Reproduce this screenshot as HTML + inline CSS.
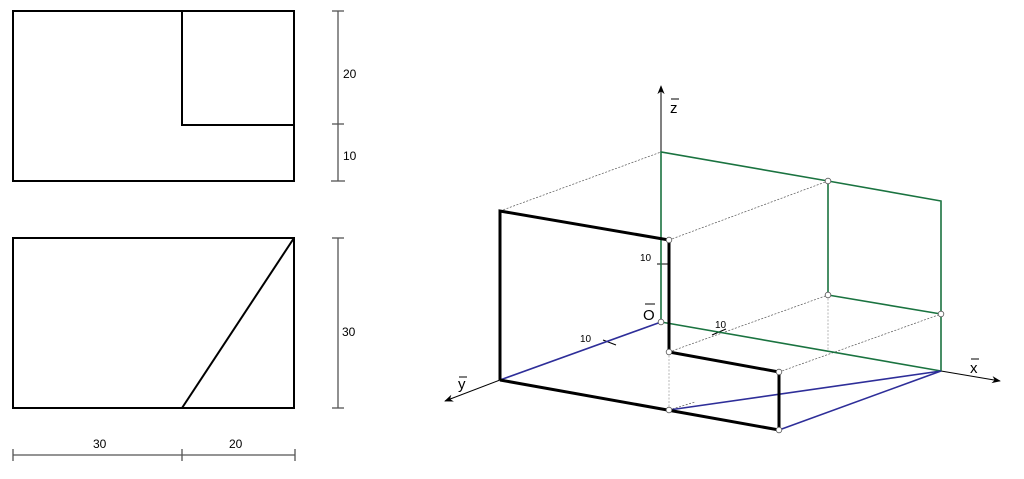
<!DOCTYPE html>
<html><head><meta charset="utf-8"><style>
html,body{margin:0;padding:0;background:#fff;}
svg{display:block;}
text{font-family:"Liberation Sans",sans-serif;fill:#000;}
</style></head><body>
<svg width="1024" height="479" viewBox="0 0 1024 479" xmlns="http://www.w3.org/2000/svg">
<defs>
<marker id="ar" viewBox="0 0 10 10" refX="9" refY="5" markerWidth="9" markerHeight="9" orient="auto" markerUnits="userSpaceOnUse"><path d="M0,1 L10,5 L0,9 L3,5 Z" fill="#000"/></marker>
</defs>
<!-- left views -->
<g fill="none" stroke="#000" stroke-width="2">
<rect x="13" y="11" width="281" height="170"/>
<polyline points="182,11 182,125 294,125"/>
<rect x="13" y="238" width="281" height="170"/>
<line x1="182" y1="408" x2="294" y2="238"/>
</g>
<g stroke="#555" stroke-width="1.3" fill="none">
<line x1="338" y1="11" x2="338" y2="181"/>
<line x1="332" y1="11" x2="344" y2="11"/><line x1="332" y1="124" x2="344" y2="124"/><line x1="331" y1="181" x2="345" y2="181"/>
<line x1="338" y1="238" x2="338" y2="408"/>
<line x1="332" y1="238" x2="344" y2="238"/><line x1="332" y1="408" x2="344" y2="408"/>
<line x1="13" y1="455" x2="295" y2="455"/>
<line x1="13" y1="449" x2="13" y2="461"/><line x1="182" y1="449" x2="182" y2="461"/><line x1="295" y1="449" x2="295" y2="461"/>
</g>
<g font-size="12">
<text x="343" y="78">20</text><text x="343" y="160">10</text><text x="342" y="336">30</text>
<text x="93" y="448">30</text><text x="229" y="448">20</text>
</g>
<!-- 3D -->
<g stroke="#555" stroke-width="0.7" stroke-dasharray="2,1.5" fill="none">
<line x1="500" y1="211" x2="661" y2="152"/>
<line x1="669" y1="240" x2="828" y2="181"/>
<line x1="669" y1="352" x2="828" y2="295"/>
<line x1="779" y1="372" x2="941" y2="314"/>
<line x1="669" y1="352" x2="669" y2="410" stroke="#999"/>
<line x1="828" y1="295" x2="828" y2="350" stroke="#999"/>
<line x1="669" y1="410" x2="695" y2="402"/>
</g>
<g stroke="#000" stroke-width="1" fill="none">
<line x1="661" y1="322" x2="661" y2="86" marker-end="url(#ar)"/>
<line x1="941" y1="371" x2="1000" y2="381" marker-end="url(#ar)"/>
<line x1="500" y1="380" x2="445" y2="401" marker-end="url(#ar)"/>
<line x1="657" y1="264" x2="669" y2="264"/>
<line x1="603" y1="340" x2="616" y2="345"/>
<line x1="712" y1="335" x2="726" y2="329"/>
</g>
<g stroke="#1a7340" stroke-width="1.6" fill="none">
<polyline points="661,322 661,152 828,181 941,201 941,371"/>
<line x1="828" y1="181" x2="828" y2="295"/>
<polyline points="828,295 941,314"/>
<line x1="661" y1="322" x2="941" y2="371"/>
</g>
<g stroke="#2e2e99" stroke-width="1.6" fill="none">
<line x1="500" y1="380" x2="661" y2="322"/>
<line x1="669" y1="410" x2="941" y2="371"/>
<line x1="779" y1="430" x2="941" y2="371"/>
</g>
<g stroke="#000" stroke-width="3" fill="none" stroke-linejoin="miter">
<polyline points="500,380 500,211 669,240 669,352 779,372 779,430 500,380"/>
</g>
<g fill="#fff" stroke="#555" stroke-width="0.8">
<circle cx="669" cy="240" r="2.8"/><circle cx="661" cy="322" r="2.8"/><circle cx="669" cy="352" r="2.8"/>
<circle cx="779" cy="372" r="2.8"/><circle cx="669" cy="410" r="2.8"/><circle cx="779" cy="430" r="2.8"/>
<circle cx="828" cy="181" r="2.8"/><circle cx="828" cy="295" r="2.8"/><circle cx="941" cy="314" r="2.8"/>
</g>
<g font-size="10"><text x="640" y="261">10</text><text x="580" y="342">10</text><text x="715" y="328">10</text></g>
<g font-size="15">
<text x="670" y="113">z</text><line x1="671" y1="99" x2="679" y2="99" stroke="#000"/>
<text x="643" y="320">O</text><line x1="645" y1="304" x2="655" y2="304" stroke="#000"/>
<text x="970" y="373">x</text><line x1="971" y1="359" x2="979" y2="359" stroke="#000"/>
<text x="458" y="389">y</text><line x1="459" y1="377" x2="467" y2="377" stroke="#000"/>
</g>
</svg>
</body></html>
